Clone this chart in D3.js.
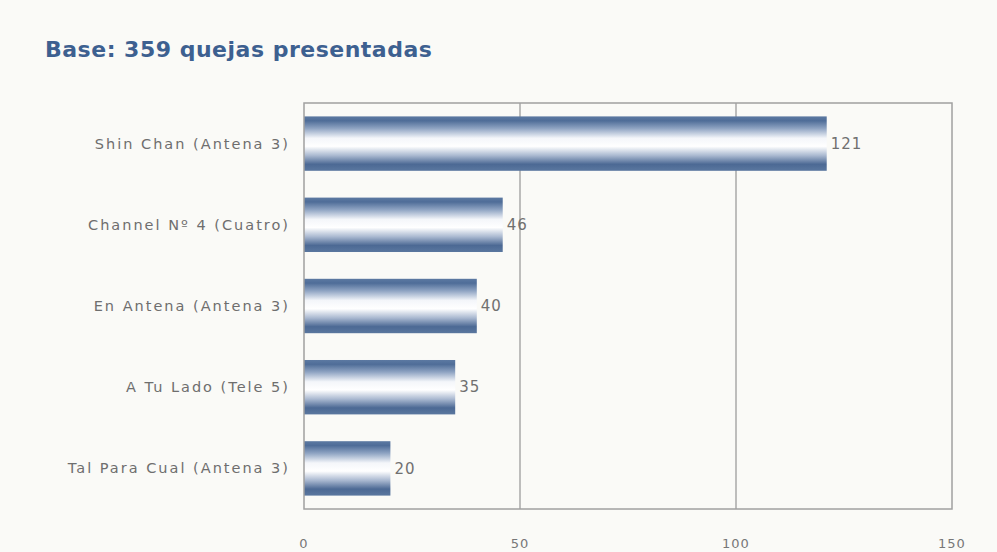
<!DOCTYPE html>
<html>
<head>
<meta charset="utf-8">
<script src="https://cdn.jsdelivr.net/npm/d3@7"></script>
<style>
    body { margin: 0; background: #fafaf7; }
    svg { display: block; }
    .title { font-family: "Comic Sans MS", "DejaVu Sans", sans-serif; font-weight: bold; fill: #3d6090; font-size: 22px; letter-spacing: 0.5px; }
    .cat { font-family: "Comic Sans MS", "DejaVu Sans", sans-serif; fill: #6e6e6e; font-size: 14.5px; letter-spacing: 2px; }
    .val { font-family: "Comic Sans MS", "DejaVu Sans", sans-serif; fill: #707070; font-size: 15px; letter-spacing: 1px; }
    .tick-label { font-family: "Comic Sans MS", "DejaVu Sans", sans-serif; fill: #777777; font-size: 13px; letter-spacing: 1px; }
</style>
</head>
<body>
<svg id="chart" width="997" height="552"></svg>
<script>
const categories = ["Shin Chan (Antena 3)", "Channel Nº 4 (Cuatro)", "En Antena (Antena 3)", "A Tu Lado (Tele 5)", "Tal Para Cual (Antena 3)"];
const values = [121, 46, 40, 35, 20];
const ticks = [0, 50, 100, 150];

const svg = d3.select("#chart");
const margin = {top: 103, left: 304, right: 45, bottom: 43};
const width = 997, height = 552;

let x = d3.scaleLinear()
    .domain([0, 150])
    .range([margin.left, width - margin.right]);

let y = d3.scaleBand()
    .domain(categories)
    .range([margin.top, height - margin.bottom])
    .paddingInner(0.33)
    .paddingOuter(0.165);

// vertical gradient for the tube-like bars
let grad = svg.append("defs")
    .append("linearGradient")
        .attr("id", "barGrad")
        .attr("x1", 0).attr("y1", 0)
        .attr("x2", 0).attr("y2", 1);
[
    [0, "#5c79a2"], [0.08, "#4f6d98"], [0.22, "#8ea3c2"], [0.4, "#f4f6fa"],
    [0.55, "#ffffff"], [0.72, "#a9b8d0"], [0.88, "#4c6994"], [1, "#5a779f"]
].forEach(s => grad.append("stop").attr("offset", s[0]).attr("stop-color", s[1]));

svg.append("text")
    .classed("title", true)
    .attr("x", 45)
    .attr("y", 57)
    .text("Base: 359 quejas presentadas");

// gridlines
svg.append("g")
    .selectAll("line")
    .data(ticks.slice(1, -1))
    .enter()
    .append("line")
        .attr("x1", d => x(d)).attr("x2", d => x(d))
        .attr("y1", margin.top).attr("y2", height - margin.bottom)
        .attr("stroke", "#a8a8a8")
        .attr("stroke-width", 1.5);

// bars
svg.append("g")
    .selectAll("rect")
    .data(values)
    .enter()
    .append("rect")
        .attr("x", x(0))
        .attr("y", (d, i) => y(categories[i]))
        .attr("width", d => x(d) - x(0))
        .attr("height", y.bandwidth())
        .attr("fill", "url(#barGrad)");

// plot frame
svg.append("rect")
    .attr("x", margin.left)
    .attr("y", margin.top)
    .attr("width", x(150) - x(0))
    .attr("height", height - margin.bottom - margin.top)
    .attr("fill", "none")
    .attr("stroke", "#a0a0a0")
    .attr("stroke-width", 1.5);

// value labels
svg.append("g")
    .selectAll("text")
    .data(values)
    .enter()
    .append("text")
        .classed("val", true)
        .attr("x", d => x(d) + 4)
        .attr("y", (d, i) => y(categories[i]) + y.bandwidth() / 2)
        .attr("dy", "0.35em")
        .text(d => d);

// category labels
svg.append("g")
    .selectAll("text")
    .data(categories)
    .enter()
    .append("text")
        .classed("cat", true)
        .attr("x", margin.left - 14)
        .attr("y", d => y(d) + y.bandwidth() / 2)
        .attr("dy", "0.35em")
        .attr("text-anchor", "end")
        .text(d => d);

// x tick labels
svg.append("g")
    .selectAll("text")
    .data(ticks)
    .enter()
    .append("text")
        .classed("tick-label", true)
        .attr("x", d => x(d))
        .attr("y", 548)
        .attr("text-anchor", "middle")
        .text(d => d);
</script>
</body>
</html>
